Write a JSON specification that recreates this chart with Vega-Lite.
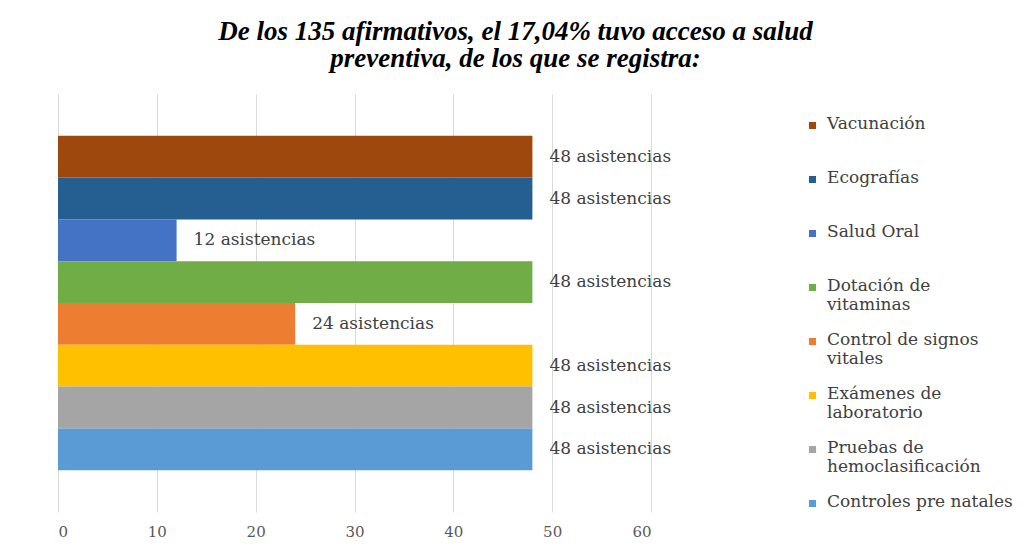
{
  "$schema": "https://vega.github.io/schema/vega-lite/v6.json",
  "width": 593,
  "height": 418,
  "autosize": {"type": "none"},
  "padding": {"left": 58, "top": 94, "right": 378, "bottom": 37},
  "background": "white",
  "title": {
    "text": ["De los 135 afirmativos, el 17,04% tuvo acceso a salud", "preventiva, de los que se registra:"],
    "font": "Liberation Serif",
    "fontSize": 27,
    "fontWeight": "bold",
    "fontStyle": "italic",
    "color": "#000000",
    "anchor": "middle",
    "dx": 161,
    "offset": 21,
    "lineHeight": 27
  },
  "data": {
    "values": [
      {"servicio": "Vacunación", "asistencias": 48, "etiqueta": "48 asistencias"},
      {"servicio": "Ecografías", "asistencias": 48, "etiqueta": "48 asistencias"},
      {"servicio": "Salud Oral", "asistencias": 12, "etiqueta": "12 asistencias"},
      {"servicio": "Dotación de vitaminas", "asistencias": 48, "etiqueta": "48 asistencias"},
      {"servicio": "Control de signos vitales", "asistencias": 24, "etiqueta": "24 asistencias"},
      {"servicio": "Exámenes de laboratorio", "asistencias": 48, "etiqueta": "48 asistencias"},
      {"servicio": "Pruebas de hemoclasificación", "asistencias": 48, "etiqueta": "48 asistencias"},
      {"servicio": "Controles pre natales", "asistencias": 48, "etiqueta": "48 asistencias"}
    ]
  },
  "encoding": {
    "y": {
      "field": "servicio",
      "type": "nominal",
      "sort": ["Vacunación", "Ecografías", "Salud Oral", "Dotación de vitaminas", "Control de signos vitales", "Exámenes de laboratorio", "Pruebas de hemoclasificación", "Controles pre natales"],
      "scale": {"paddingInner": 0, "paddingOuter": 1.13},
      "axis": null
    },
    "x": {
      "field": "asistencias",
      "type": "quantitative",
      "scale": {"domain": [0, 60], "nice": false},
      "axis": {
        "values": [0, 10, 20, 30, 40, 50, 60],
        "grid": true,
        "gridColor": "#d9d9d9",
        "gridWidth": 1,
        "domain": false,
        "ticks": false,
        "labelFont": "DejaVu Serif",
        "labelFontSize": 15,
        "labelColor": "#595959",
        "labelPadding": 12,
        "title": null
      }
    }
  },
  "layer": [
    {
      "mark": {"type": "bar"},
      "encoding": {
        "color": {
          "field": "servicio",
          "type": "nominal",
          "scale": {
            "domain": ["Vacunación", "Ecografías", "Salud Oral", "Dotación de vitaminas", "Control de signos vitales", "Exámenes de laboratorio", "Pruebas de hemoclasificación", "Controles pre natales"],
            "range": ["#9E480E", "#255E91", "#4472C4", "#70AD47", "#ED7D31", "#FFC000", "#A5A5A5", "#5B9BD5"]
          },
          "legend": {
            "orient": "none",
            "legendX": 746,
            "legendY": 23,
            "title": null,
            "symbolType": "square",
            "symbolSize": 50,
            "symbolStrokeWidth": 0,
            "labelFont": "DejaVu Serif",
            "labelFontSize": 17,
            "labelColor": "#404040",
            "labelLimit": 300,
            "labelOffset": 6,
            "rowPadding": 17,
            "gridAlign": "all",
            "labelBaseline": "top",
            "padding": 0,
            "labelExpr": "datum.label == 'Dotación de vitaminas' ? ['Dotación de', 'vitaminas'] : datum.label == 'Control de signos vitales' ? ['Control de signos', 'vitales'] : datum.label == 'Exámenes de laboratorio' ? ['Exámenes de', 'laboratorio'] : datum.label == 'Pruebas de hemoclasificación' ? ['Pruebas de', 'hemoclasificación'] : datum.label",
            "encode": {
              "labels": {"update": {"lineHeight": {"value": 19}, "dy": {"value": -10}}}
            }
          }
        }
      }
    },
    {
      "mark": {"type": "text", "align": "left", "baseline": "middle", "dx": 17, "font": "DejaVu Serif", "fontSize": 17, "color": "#404040"},
      "encoding": {"text": {"field": "etiqueta"}}
    }
  ],
  "config": {"view": {"stroke": null}}
}
